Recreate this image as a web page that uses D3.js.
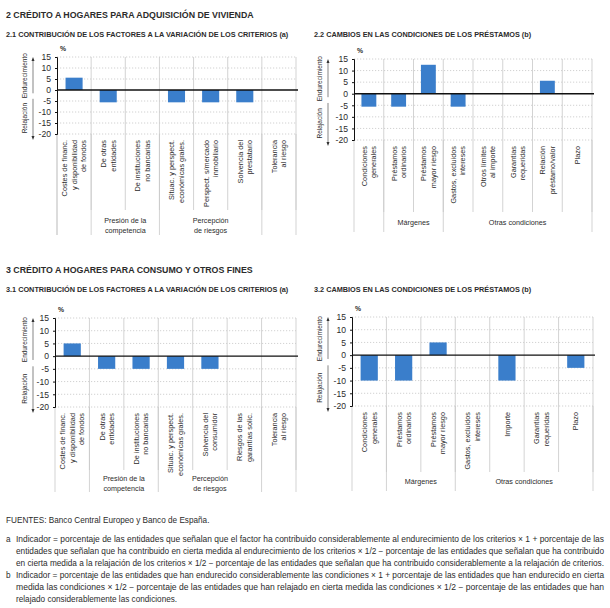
<!DOCTYPE html>
<html><head><meta charset="utf-8">
<script src="https://cdn.jsdelivr.net/npm/d3@7"></script>
<style>
body{margin:0;background:#fff;}
text{font-family:"Liberation Sans",Arial,sans-serif;fill:#2b2b2b;}
</style></head>
<body>
<svg id="c" width="610" height="608"></svg>
<script>
// ---------- DATA ----------
const yTicks = [15, 10, 5, 0, -5, -10, -15, -20];

const cats21 = ["Costes de financ.\ny disponibilidad\nde fondos", "De otras\nentidades", "De instituciones\nno bancarias",
  "Situac. y perspect.\neconómicas grales.", "Perspect. s/mercado\ninmobiliario", "Solvencia del\nprestatario", "Tolerancia\nal riesgo"];
const vals21 = [5.6, -5.6, 0, -5.6, -5.6, -5.6, 0];
const groups21 = [{label: "", from: 0, to: 0}, {label: "Presión de la\ncompetencia", from: 1, to: 2},
  {label: "Percepción\nde riesgos", from: 3, to: 5}, {label: "", from: 6, to: 6}];

const cats22 = ["Condiciones\ngenerales", "Préstamos\nordinarios", "Préstamos\nmayor riesgo", "Gastos, excluidos\nintereses",
  "Otros límites\nal importe", "Garantías\nrequeridas", "Relación\npréstamo/valor", "Plazo"];
const vals22 = [-5.6, -5.6, 12.5, -5.6, 0, 0, 5.6, 0];
const groups22 = [{label: "", from: 0, to: 0}, {label: "Márgenes", from: 1, to: 2}, {label: "Otras condiciones", from: 3, to: 7}];

const cats31 = ["Costes de financ.\ny disponibilidad\nde fondos", "De otras\nentidades", "De instituciones\nno bancarias",
  "Situac. y perspect.\neconómicas grales.", "Solvencia del\nconsumidor", "Riesgos de las\ngarantías solic.", "Tolerancia\nal riesgo"];
const vals31 = [5, -5, -5, -5, -5, 0, 0];
const groups31 = [{label: "", from: 0, to: 0}, {label: "Presión de la\ncompetencia", from: 1, to: 2},
  {label: "Percepción\nde riesgos", from: 3, to: 5}, {label: "", from: 6, to: 6}];

const cats32 = ["Condiciones\ngenerales", "Préstamos\nordinarios", "Préstamos\nmayor riesgo", "Gastos, excluidos\nintereses",
  "Importe", "Garantías\nrequeridas", "Plazo"];
const vals32 = [-10, -10, 5, 0, -10, 0, -5];
const groups32 = [{label: "", from: 0, to: 0}, {label: "Márgenes", from: 1, to: 2}, {label: "Otras condiciones", from: 3, to: 6}];

const sectionTitles = ["2  CRÉDITO A HOGARES PARA ADQUISICIÓN DE VIVIENDA", "3  CRÉDITO A HOGARES PARA CONSUMO Y OTROS FINES"];
const panelTitles = ["2.1  CONTRIBUCIÓN DE LOS FACTORES A LA VARIACIÓN DE LOS CRITERIOS (a)", "2.2  CAMBIOS EN LAS CONDICIONES DE LOS PRÉSTAMOS (b)",
  "3.1  CONTRIBUCIÓN DE LOS FACTORES A LA VARIACIÓN DE LOS CRITERIOS (a)", "3.2  CAMBIOS EN LAS CONDICIONES DE LOS PRÉSTAMOS (b)"];
const sourceText = "FUENTES: Banco Central Europeo y Banco de España.";
const noteA = ["Indicador = porcentaje de las entidades que señalan que el factor ha contribuido considerablemente al endurecimiento de los criterios × 1 + porcentaje de las",
  "entidades que señalan que ha contribuido en cierta medida al endurecimiento de los criterios × 1/2 − porcentaje de las entidades que señalan que ha contribuido",
  "en cierta medida a la relajación de los criterios × 1/2 − porcentaje de las entidades que señalan que ha contribuido considerablemente a la relajación de criterios."];
const noteB = ["Indicador = porcentaje de las entidades que han endurecido considerablemente las condiciones × 1 + porcentaje de las entidades que han endurecido en cierta",
  "medida las condiciones × 1/2 − porcentaje de las entidades que han relajado en cierta medida las condiciones × 1/2 − porcentaje de las entidades que han",
  "relajado considerablemente las condiciones."];

// ---------- LAYOUT ----------
const svg = d3.select("#c");
const BAR = "#3a7ecb";
const GRID = "#c8c8c8";

function drawPanel(cfg) {
  const g = svg.append("g");
  const x = d3.scaleBand().domain(d3.range(cfg.cats.length)).range([cfg.x0, cfg.x1]).paddingInner(0).paddingOuter(0);
  const y = d3.scaleLinear().domain([-20, 15]).range([cfg.yBot, cfg.yTop]);
  const bw = x.bandwidth();

  // horizontal dotted grid
  g.selectAll(".hg").data(yTicks.filter(t => t !== 0)).enter().append("line")
    .attr("x1", cfg.x0).attr("x2", cfg.x1).attr("y1", d => y(d)).attr("y2", d => y(d))
    .attr("stroke", "#bdbdbd").attr("stroke-width", 0.7).attr("stroke-dasharray", "1.2,1.8");

  // vertical grid in plot + category label area
  const bounds = d3.range(1, cfg.cats.length + 1).map(i => i < cfg.cats.length ? x(i) : cfg.x1);
  g.selectAll(".vg").data(bounds).enter().append("line")
    .attr("x1", d => d).attr("x2", d => d).attr("y1", cfg.yTop).attr("y2", cfg.catBot)
    .attr("stroke", GRID).attr("stroke-width", 0.8);
  // group boundary lines through band
  const gb = new Set([cfg.x0]);
  cfg.groups.forEach(gr => { gb.add(x(gr.from)); gb.add(gr.to + 1 < cfg.cats.length ? x(gr.to + 1) : cfg.x1); });
  g.selectAll(".gl").data([...gb]).enter().append("line")
    .attr("x1", d => d).attr("x2", d => d).attr("y1", cfg.yBot).attr("y2", cfg.bandBot)
    .attr("stroke", GRID).attr("stroke-width", 0.8);

  // bars
  g.selectAll(".bar").data(cfg.vals).enter().append("rect")
    .attr("x", (d, i) => x(i) + bw * 0.25).attr("width", bw * 0.5)
    .attr("y", d => y(Math.max(0, d))).attr("height", d => Math.abs(y(d) - y(0)))
    .attr("fill", BAR);

  // zero line
  g.append("line").attr("x1", cfg.x0).attr("x2", cfg.x1 + 2).attr("y1", y(0)).attr("y2", y(0))
    .attr("stroke", "#111").attr("stroke-width", 1.4);

  // y axis
  const ax = g.append("g").attr("transform", `translate(${cfg.x0},0)`)
    .call(d3.axisLeft(y).tickValues(yTicks).tickFormat(d => String(d)).tickSize(2).tickPadding(4));
  ax.select(".domain").attr("stroke", "#111").attr("stroke-width", 1);
  ax.selectAll(".tick line").attr("stroke", "#111");
  ax.selectAll(".tick text").attr("font-size", 8.6).attr("fill", "#2b2b2b")
    .attr("font-family", "Liberation Sans, Arial, sans-serif");

  // % label
  g.append("text").attr("x", cfg.x0 + 3).attr("y", cfg.yTop - 6).attr("font-size", 6.8).attr("font-weight", "bold").text("%");

  // side labels with arrows
  const midE = y(6.5), midR = y(-12.8);
  g.append("text").attr("transform", `translate(${cfg.labX},${midE}) rotate(-90)`).attr("text-anchor", "middle")
    .attr("font-size", 6.5).text("Endurecimiento");
  g.append("text").attr("transform", `translate(${cfg.labX},${midR}) rotate(-90)`).attr("text-anchor", "middle")
    .attr("font-size", 6.5).text("Relajación");
  g.append("line").attr("x1", cfg.arrX).attr("x2", cfg.arrX).attr("y1", y(-1.5)).attr("y2", y(15) + 2)
    .attr("stroke", "#333").attr("stroke-width", 0.6);
  g.append("path").attr("d", `M${cfg.arrX - 1.5},${y(15) + 4} L${cfg.arrX},${y(15)} L${cfg.arrX + 1.5},${y(15) + 4} Z`).attr("fill", "#333");
  g.append("line").attr("x1", cfg.arrX).attr("x2", cfg.arrX).attr("y1", y(-4)).attr("y2", y(-20) + 4)
    .attr("stroke", "#333").attr("stroke-width", 0.6);
  g.append("path").attr("d", `M${cfg.arrX - 1.5},${y(-20) + 2} L${cfg.arrX},${y(-20) + 6} L${cfg.arrX + 1.5},${y(-20) + 2} Z`).attr("fill", "#333");

  // category labels (rotated)
  cfg.cats.forEach((c, i) => {
    const lines = c.split("\n");
    const cx = x(i) + bw / 2;
    const t = g.append("text").attr("transform", `translate(${cx},${cfg.yBot + 6}) rotate(-90)`)
      .attr("text-anchor", "end").attr("font-size", 7.3);
    const lh = 9.4;
    lines.forEach((l, k) => {
      t.append("tspan").attr("x", 0).attr("y", (k - (lines.length - 1) / 2) * lh + 2.6).text(l);
    });
  });

  // group labels
  cfg.groups.forEach(gr => {
    if (!gr.label) return;
    const a = x(gr.from), b = gr.to + 1 < cfg.cats.length ? x(gr.to + 1) : cfg.x1;
    const lines = gr.label.split("\n");
    const t = g.append("text").attr("text-anchor", "middle").attr("font-size", 7.2);
    const y0 = lines.length === 1 ? cfg.grpY + 4 : cfg.grpY;
    lines.forEach((l, k) => t.append("tspan").attr("x", (a + b) / 2).attr("y", y0 + k * 9.5).text(l));
  });
}

// titles
svg.append("text").attr("x", 6).attr("y", 18).attr("font-size", 8.8).attr("font-weight", "bold").attr("fill", "#333").text(sectionTitles[0]);
svg.append("text").attr("x", 6).attr("y", 273).attr("font-size", 8.8).attr("font-weight", "bold").attr("fill", "#333").text(sectionTitles[1]);
[[6, 37], [314, 37], [6, 292], [314, 292]].forEach((p, i) =>
  svg.append("text").attr("x", p[0]).attr("y", p[1]).attr("font-size", 7.3).attr("font-weight", "bold").attr("fill", "#333").text(panelTitles[i]));

drawPanel({cats: cats21, vals: vals21, groups: groups21, x0: 57, x1: 296, yTop: 57, yBot: 134, catBot: 210, bandBot: 235, grpY: 223, labX: 27, arrX: 33});
drawPanel({cats: cats22, vals: vals22, groups: groups22, x0: 354, x1: 592, yTop: 59, yBot: 140, catBot: 212, bandBot: 232, grpY: 221, labX: 322, arrX: 328});
drawPanel({cats: cats31, vals: vals31, groups: groups31, x0: 55, x1: 296, yTop: 318, yBot: 407, catBot: 470, bandBot: 492, grpY: 481, labX: 27, arrX: 33});
drawPanel({cats: cats32, vals: vals32, groups: groups32, x0: 352, x1: 593, yTop: 317, yBot: 406, catBot: 472, bandBot: 491, grpY: 480, labX: 322, arrX: 328});

// footnotes
const fs = 8.2;
svg.append("text").attr("x", 6).attr("y", 523).attr("font-size", fs).text(sourceText);
function note(letter, lines, y0) {
  svg.append("text").attr("x", 6).attr("y", y0).attr("font-size", fs).text(letter);
  lines.forEach((l, i) => {
    const t = svg.append("text").attr("x", 16).attr("y", y0 + i * 12).attr("font-size", fs).text(l);
    if (!(letter === "b" && i === lines.length - 1)) t.attr("textLength", 588).attr("lengthAdjust", "spacingAndGlyphs");
  });
}
note("a", noteA, 542);
note("b", noteB, 578);
</script>
</body></html>
